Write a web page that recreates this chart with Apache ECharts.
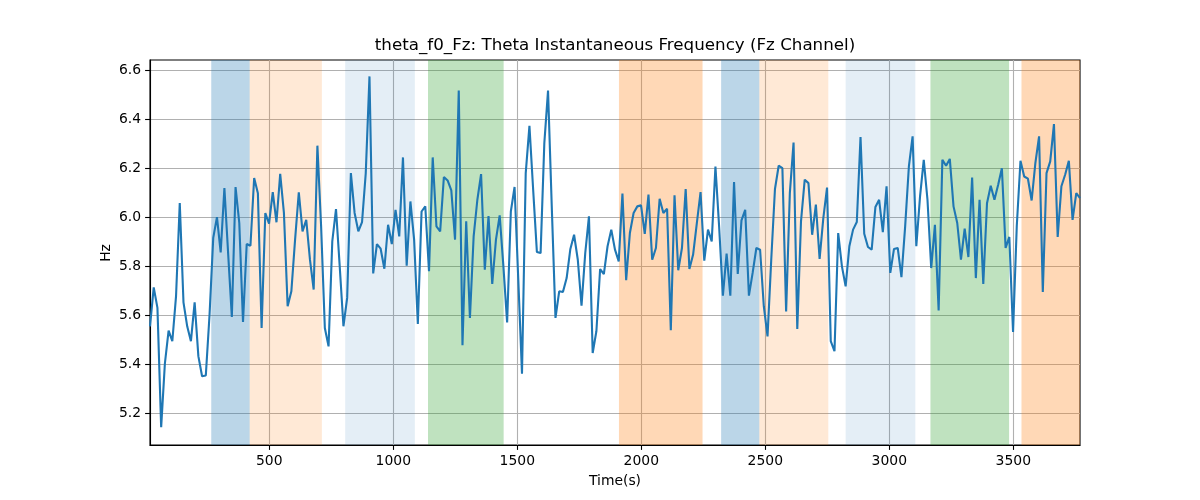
<!DOCTYPE html>
<html>
<head>
<meta charset="utf-8">
<script src="https://cdn.jsdelivr.net/npm/echarts@6/dist/echarts.min.js"></script>
<style>
html,body{margin:0;padding:0;background:#fff;}
#chart{width:1200px;height:500px;}
</style>
</head>
<body>
<div id="chart"></div>
<script>
// ---- data ----
const TITLE = 'theta_f0_Fz: Theta Instantaneous Frequency (Fz Channel)';
const X_LABEL = 'Time(s)';
const Y_LABEL = 'Hz';
const T0 = 19;      // first sample time (s)
const STEP = 15;    // sample spacing (s)
const VALUES = [
5.555,5.714,5.630,5.143,5.403,5.537,5.494,5.678,6.059,5.653,
5.555,5.494,5.653,5.433,5.351,5.354,5.600,5.916,6.001,5.857,
6.120,5.854,5.593,6.124,5.977,5.573,5.891,5.884,6.161,6.099,
5.548,6.018,5.974,6.103,5.980,6.178,6.018,5.637,5.698,5.909,
6.102,5.943,5.990,5.827,5.705,6.293,5.963,5.548,5.473,5.902,
6.034,5.800,5.555,5.671,6.181,6.018,5.943,5.981,6.181,6.576,
5.771,5.891,5.872,5.790,5.970,5.891,6.031,5.922,6.245,5.803,
6.065,5.909,5.565,6.024,6.045,5.780,6.245,5.963,5.943,6.165,
6.151,6.110,5.909,6.518,5.478,5.984,5.589,5.922,6.072,6.177,
5.786,6.005,5.728,5.909,6.008,5.800,5.571,6.024,6.124,5.746,
5.361,6.181,6.374,6.113,5.859,5.854,6.303,6.518,6.045,5.589,
5.698,5.695,5.752,5.871,5.929,5.827,5.639,5.854,6.004,5.446,
5.535,5.789,5.768,5.882,5.950,5.868,5.820,6.097,5.743,5.936,
6.018,6.045,6.049,5.933,6.093,5.827,5.875,6.076,6.018,6.035,
5.539,6.090,5.784,5.875,6.116,5.789,5.848,5.977,6.103,5.823,
5.950,5.902,6.208,5.960,5.680,5.852,5.680,6.144,5.769,5.988,
6.031,5.680,5.773,5.875,5.868,5.637,5.514,5.827,6.116,6.211,
6.201,5.616,6.099,6.306,5.544,5.984,6.154,6.140,5.929,6.052,
5.830,5.997,6.122,5.494,5.453,5.936,5.800,5.718,5.882,5.950,
5.981,6.328,5.933,5.879,5.868,6.042,6.072,5.940,6.127,5.773,
5.871,5.875,5.756,5.963,6.208,6.331,5.882,6.086,6.235,6.072,
5.793,5.970,5.620,6.235,6.211,6.239,6.045,5.977,5.827,5.954,
5.838,6.163,5.752,6.072,5.728,6.058,6.129,6.072,6.133,6.201,
5.875,5.920,5.532,5.963,6.231,6.167,6.158,6.069,6.222,6.331,
5.695,6.181,6.229,6.381,5.920,6.127,6.174,6.231,5.990,6.099,
6.079
];
const BAND_START = [266, 421, 806, 1140, 1910, 2322, 2476, 2824, 3166, 3533];
const BAND_END   = [421, 712, 1087, 1445, 2247, 2476, 2754, 3105, 3483, 3769];
const BAND_COLOR = [
  'rgba(31,119,180,0.3)', 'rgba(255,127,14,0.17)', 'rgba(31,119,180,0.12)', 'rgba(44,160,44,0.3)',
  'rgba(255,127,14,0.3)', 'rgba(31,119,180,0.3)', 'rgba(255,127,14,0.17)', 'rgba(31,119,180,0.12)',
  'rgba(44,160,44,0.3)', 'rgba(255,127,14,0.3)'
];
const X_TICKS = [500, 1000, 1500, 2000, 2500, 3000, 3500];
const Y_TICKS = [5.2, 5.4, 5.6, 5.8, 6.0, 6.2, 6.4, 6.6];
const Y_MIN = 5.07, Y_MAX = 6.643;

// ---- build ----
const lineData = VALUES.map((v, i) => [T0 + i * STEP, v]);
const xMax = T0 + (VALUES.length - 1) * STEP;
const bands = BAND_START.map((s, i) => [
  { xAxis: s, itemStyle: { color: BAND_COLOR[i] } },
  { xAxis: Math.min(BAND_END[i], xMax) }
]);

const FONT = 'DejaVu Sans';
const chart = echarts.init(document.getElementById('chart'), null, { renderer: 'canvas' });
chart.setOption({
  animation: false,
  backgroundColor: '#fff',
  grid: { left: 150, top: 60, width: 930, height: 385, show: true, borderColor: '#000', borderWidth: 1.1, backgroundColor: 'transparent' },
  graphic: [
    { type: 'text', x: 615, y: 46, style: { text: TITLE, fontFamily: FONT, fontSize: 16.7, fill: '#000', align: 'center', verticalAlign: 'middle' } },
    { type: 'text', x: 615, y: 481, style: { text: X_LABEL, fontFamily: FONT, fontSize: 13.9, fill: '#000', align: 'center', verticalAlign: 'middle' } },
    { type: 'text', x: 106, y: 253, rotation: Math.PI / 2, style: { text: Y_LABEL, fontFamily: FONT, fontSize: 13.9, fill: '#000', align: 'center', verticalAlign: 'middle' } }
  ],
  xAxis: {
    type: 'value', min: T0, max: xMax,
    axisLine: { show: true, lineStyle: { color: '#000', width: 1.1 } },
    axisTick: { show: true, length: 4.9, lineStyle: { color: '#000', width: 1.1 }, customValues: X_TICKS },
    axisLabel: { color: '#000', fontFamily: FONT, fontSize: 13.9, margin: 9, customValues: X_TICKS, formatter: v => String(v) },
    splitLine: { show: true, lineStyle: { color: '#b0b0b0', width: 1.1 } }
  },
  yAxis: {
    type: 'value', min: Y_MIN, max: Y_MAX,
    axisLine: { show: true, lineStyle: { color: '#000', width: 1.1 } },
    axisTick: { show: true, length: 4.9, lineStyle: { color: '#000', width: 1.1 }, customValues: Y_TICKS },
    axisLabel: { color: '#000', fontFamily: FONT, fontSize: 13.9, margin: 9, customValues: Y_TICKS, formatter: v => v.toFixed(1) },
    splitLine: { show: true, lineStyle: { color: '#b0b0b0', width: 1.1 } }
  },
  series: [
    { type: 'line', data: [], silent: true,
      markArea: { silent: true, label: { show: false }, data: bands } },
    { type: 'line', data: lineData, showSymbol: false, symbol: 'none',
      lineStyle: { color: '#1f77b4', width: 2.1 }, itemStyle: { color: '#1f77b4' } }
  ]
});
</script>
</body>
</html>
